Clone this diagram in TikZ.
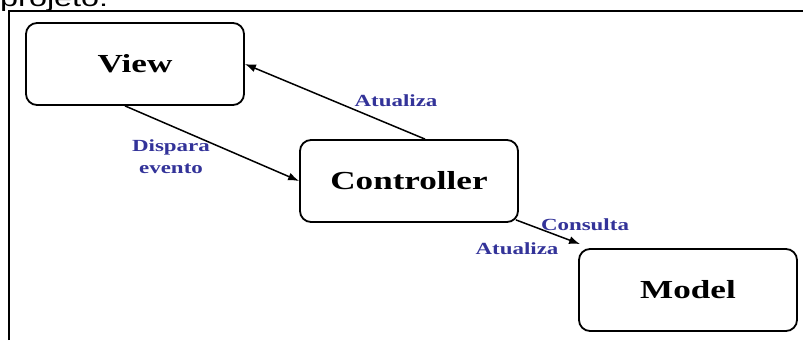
\documentclass[tikz,border=0pt]{standalone}
\usepackage{fontspec}
\setmainfont{Liberation Serif}[FakeStretch=1.35]
\newfontfamily\topfont{Liberation Sans}[FakeStretch=1.35]
\usetikzlibrary{arrows.meta}
\definecolor{rotuloazul}{HTML}{333399}
\tikzset{
  mvcbox/.style={draw, line width=1.8pt, rounded corners=11pt, fill=white,
    minimum width=218pt, minimum height=82pt, inner sep=0pt,
    font=\bfseries\fontsize{26}{28}\selectfont},
  rotulo/.style={text=rotuloazul, inner sep=0pt, align=center,
    font=\bfseries\fontsize{17}{22}\selectfont},
  seta/.style={line width=1.5pt, -{Latex[length=11pt,width=8pt]}}
}
\begin{document}
\begin{tikzpicture}[x=1pt,y=-1pt]
    \useasboundingbox (0,0) rectangle (803,340);
    \node[anchor=base west, inner sep=0pt, font=\topfont\fontsize{24}{24}\selectfont] (titulo) at (0,6) {projeto:};
    \draw[line width=1.5pt] (9,340) -- (9,11) -- (803,11);

    % caixas do MVC
    \node[mvcbox] (view) at (135,64) {View};
    \node[mvcbox] (controller) at (409,181) {Controller};
    \node[mvcbox] (model) at (688,290) {Model};

    \draw[seta] ([xshift=-10pt]view.south) -- (controller.west);
    \draw[seta] ([xshift=16pt]controller.north) -- (view.east);
    \draw[seta] ([xshift=-3pt,yshift=3pt]controller.south east) -- ([xshift=2pt,yshift=4pt]model.north west);

    \node[rotulo] (atualizaV) at (396,101) {Atualiza};
    \node[rotulo] (dispara) at (171,157) {Dispara\\evento};
    \node[rotulo] (consulta) at (585,225) {Consulta};
    \node[rotulo] (atualizaM) at (517,249) {Atualiza};
\end{tikzpicture}
\end{document}
